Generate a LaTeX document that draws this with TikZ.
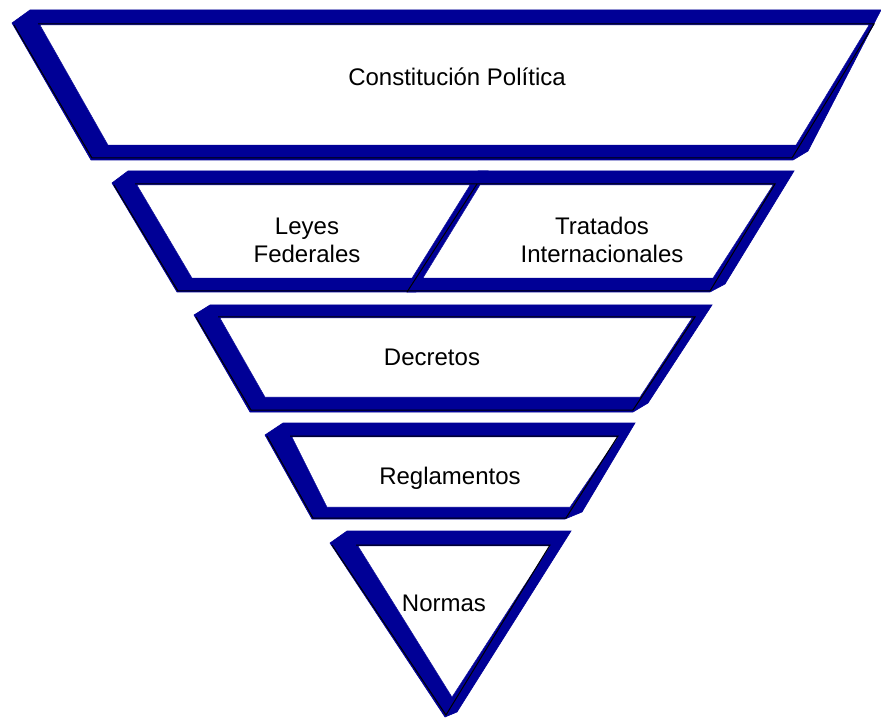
\documentclass[tikz,border=0pt]{standalone}
\usepackage{fontspec}
\setmainfont{Liberation Sans}
\definecolor{navy}{RGB}{0,0,150}
\begin{document}
\begin{tikzpicture}[x=1pt,y=-1pt,
  frameouter/.style={fill=navy,draw=navy,line width=0.6pt,line join=miter},
  frameinner/.style={fill=white,draw=navy,line width=0.4pt},
  frameedge/.style={draw=black,line width=1pt},
  lbl/.style={font=\fontsize{24}{28}\selectfont,inner sep=0pt,align=center}]
\useasboundingbox (0,0) rectangle (881,719);
% Constitucion
\path[frameouter] (30,10) -- (881,10) -- (808,151) -- (793,160) -- (91,160) -- (12,23) -- cycle;
\path[frameinner] (40,25) -- (869,25) -- (796,145) -- (108,145) -- cycle;
\draw[frameedge] (38,24) -- (874,24) -- (792,158) -- (92,158) -- (14,25);
% Leyes Federales
\path[frameouter] (128,171) -- (488,171) -- (416,292) -- (177,292) -- (112,183) -- cycle;
% Tratados
\path[frameouter] (478,171) -- (794,171) -- (725,284) -- (710,292) -- (407,292) -- cycle;
\path[frameinner] (137,185) -- (470,185) -- (412,278) -- (192,278) -- cycle;
\path[frameinner] (480,185) -- (773,185) -- (713,278) -- (423,278) -- cycle;
\draw[frameedge] (135,184) -- (775,184) -- (710,291) -- (178,291) -- (114,185);
\draw[frameedge] (477,184) -- (407,292);
% Decretos
\path[frameouter] (210,305) -- (712,305) -- (648,403) -- (633,412) -- (250,412) -- (194,315) -- cycle;
\path[frameinner] (220,318) -- (692,318) -- (640,397) -- (265,397) -- cycle;
\draw[frameedge] (218,317) -- (695,317) -- (633,410) -- (251,410) -- (196,317);
% Reglamentos
\path[frameouter] (283,423) -- (635,423) -- (582,512) -- (565,519) -- (312,519) -- (265,435) -- cycle;
\path[frameinner] (292,437) -- (618,437) -- (570,507) -- (327,507) -- cycle;
\draw[frameedge] (290,436) -- (618,436) -- (566,518) -- (313,518) -- (267,436);
% Normas
\path[frameouter] (347,531) -- (571,531) -- (457,712) -- (445,717) -- (330,543) -- cycle;
\path[frameinner] (358,546) -- (550,546) -- (452,697) -- cycle;
\draw[frameedge] (356,545) -- (550,545) -- (446,715) -- (332,545);
% labels
\node[lbl,anchor=base] (constitucion) at (457,86) {Constitución Política};
\node[lbl] (leyes) at (307,240) {Leyes\\Federales};
\node[lbl] (tratados) at (602,240) {Tratados\\Internacionales};
\node[lbl,anchor=base] (decretos) at (432,366) {Decretos};
\node[lbl,anchor=base] (reglamentos) at (450,484) {Reglamentos};
\node[lbl,anchor=base] (normas) at (444,611) {Normas};
\end{tikzpicture}
\end{document}
